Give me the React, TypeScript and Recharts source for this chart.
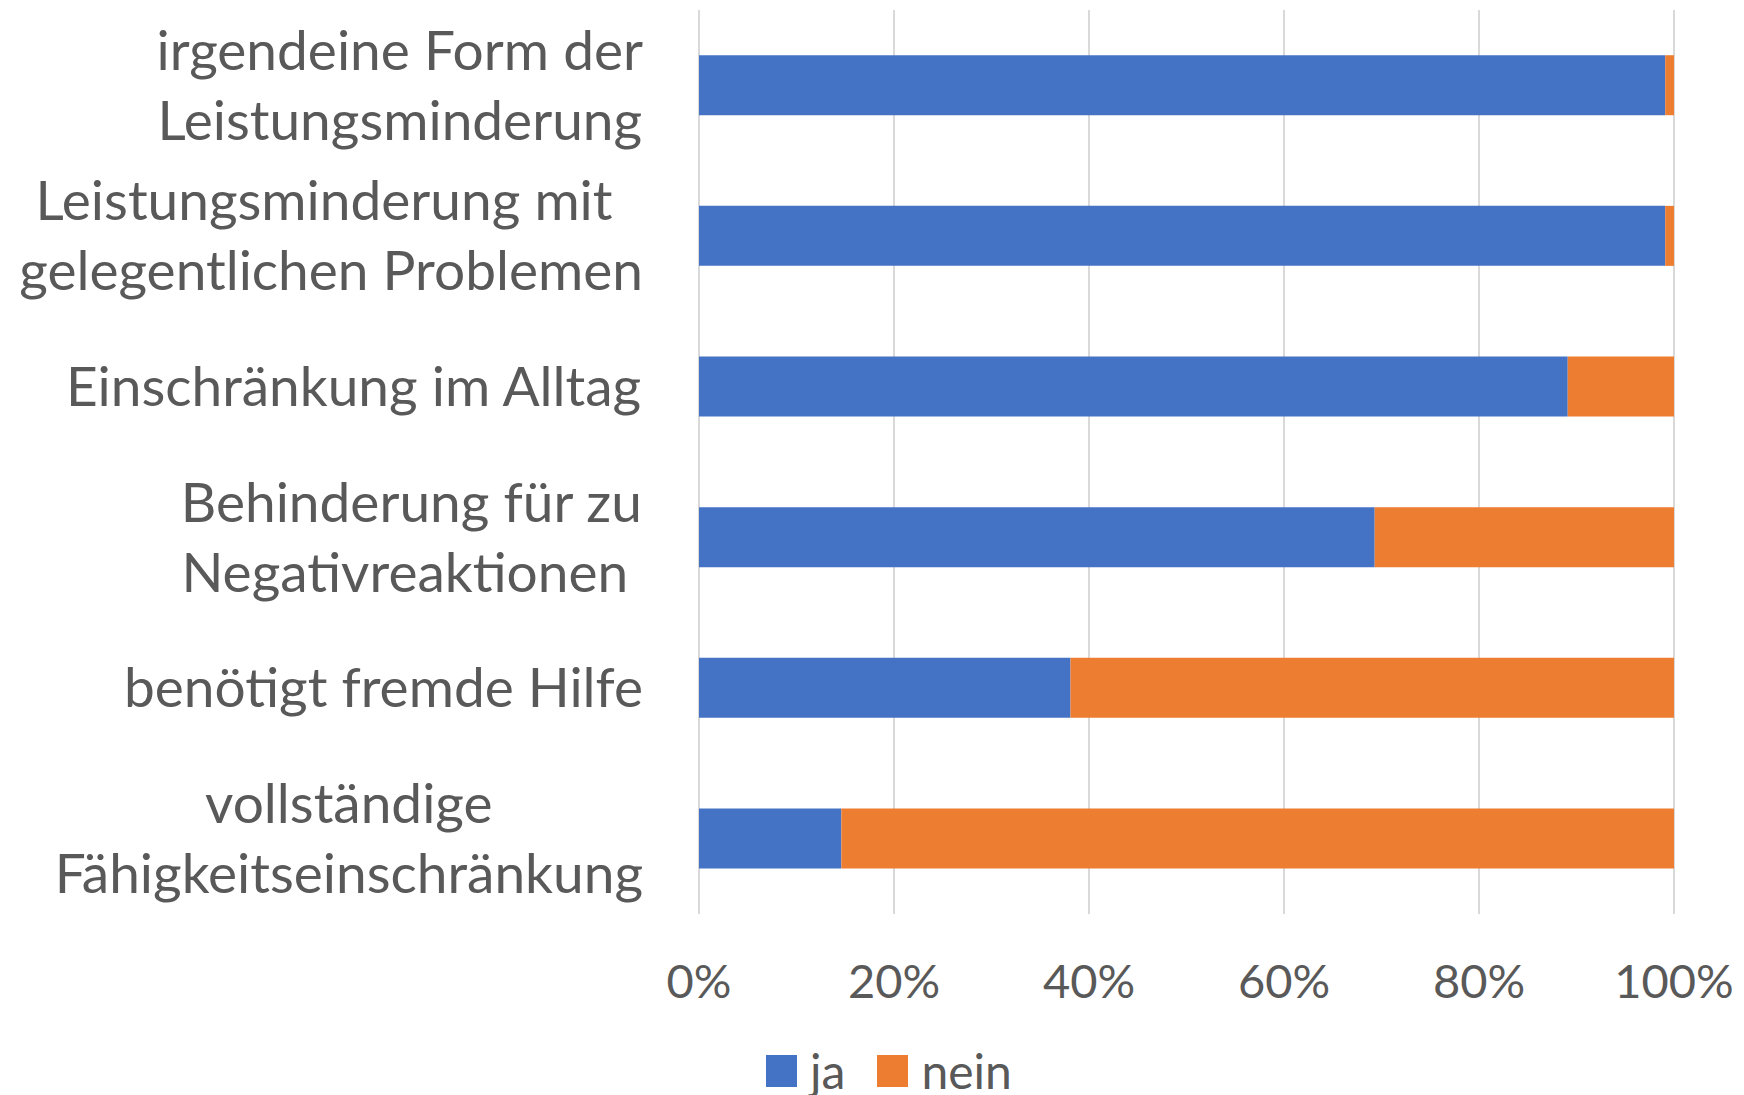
import React from "react";
import { BarChart, Bar, XAxis, YAxis, CartesianGrid, Legend } from "recharts";

// labels as they appear on the axis; "\n" marks a line break
const categories = [
  "irgendeine Form der\nLeistungsminderung",
  "Leistungsminderung mit \ngelegentlichen Problemen",
  "Einschränkung im Alltag",
  "Behinderung für zu\nNegativreaktionen ",
  "benötigt fremde Hilfe",
  "vollständige\nFähigkeitseinschränkung",
];
const ja = [99.1, 99.1, 89.1, 69.3, 38.1, 14.6];
const nein = [0.9, 0.9, 10.9, 30.7, 61.9, 85.4];
const xTicks = [0, 20, 40, 60, 80, 100];

const data = categories.map((name, i) => ({ name, ja: ja[i], nein: nein[i] }));

const TEXT = "#595959";
const FONT = "Lato";
const LABEL_SIZE = 55;
const LINE_GAP = 70;

let ctx: CanvasRenderingContext2D | null = null;
function measure(s: string, size: number) {
  if (!ctx) ctx = document.createElement("canvas").getContext("2d");
  if (!ctx) return s.length * size * 0.5;
  ctx.font = `${size}px ${FONT}`;
  return ctx.measureText(s).width;
}

// Excel centres the lines of a wrapped label inside a right-aligned block
function CategoryTick(props: any) {
  const { x, y, payload } = props;
  const lines = String(payload.value).split("\n");
  const widths = lines.map((l) => measure(l, LABEL_SIZE));
  const block = Math.max(...widths);
  const right = x - 56;
  const top = y - ((lines.length - 1) * LINE_GAP) / 2;
  return (
    <g>
      {lines.map((l, i) => (
        <text
          key={i}
          x={right - block / 2 - widths[i] / 2}
          y={top + i * LINE_GAP}
          dy="0.35em"
          textAnchor="start"
          fill={TEXT}
          fontSize={LABEL_SIZE}
          fontFamily={FONT}
        >
          {l.trimEnd()}
        </text>
      ))}
    </g>
  );
}

function PercentTick(props: any) {
  const { x, y, payload } = props;
  return (
    <text x={x} y={y + 68} dy="0.35em" textAnchor="middle" fill={TEXT} fontSize={47} fontFamily={FONT}>
      {payload.value}%
    </text>
  );
}

function LegendContent(props: any) {
  const items = props.payload || [];
  return (
    <div style={{ display: "flex", alignItems: "center", height: 38, lineHeight: "38px", fontFamily: FONT, fontSize: 48, color: TEXT, whiteSpace: "nowrap" }}>
      {items.map((it: any, i: number) => (
        <div key={i} style={{ display: "flex", alignItems: "center", flexShrink: 0, marginRight: i === 0 ? 32 : 0 }}>
          <span style={{ display: "inline-block", flexShrink: 0, width: 31, height: 32, background: it.color, marginRight: 13 }} />
          <span>{it.value}</span>
        </div>
      ))}
    </div>
  );
}

export default function App() {
  return (
    <div style={{ position: "absolute", left: 0, top: 0, background: "#fff" }}>
      <BarChart
        width={1744}
        height={1095}
        data={data}
        layout="vertical"
        barCategoryGap="30%"
        margin={{ top: 10, right: 70, left: 0, bottom: 5 }}
      >
        <CartesianGrid horizontal={false} stroke="#d9d9d9" strokeWidth={2} />
        <XAxis
          type="number"
          domain={[0, 100]}
          ticks={xTicks}
          interval={0}
          axisLine={false}
          tickLine={false}
          tickSize={0}
          tickMargin={0}
          height={138}
          tick={<PercentTick />}
        />
        <YAxis
          type="category"
          dataKey="name"
          width={699}
          interval={0}
          axisLine={false}
          tickLine={false}
          tickSize={0}
          tickMargin={0}
          tick={<CategoryTick />}
        />
        <Legend verticalAlign="bottom" content={<LegendContent />} wrapperStyle={{ left: 766, bottom: 5, width: "auto" }} />
        <Bar dataKey="ja" name="ja" stackId="a" fill="#4472C4" isAnimationActive={false} />
        <Bar dataKey="nein" name="nein" stackId="a" fill="#ED7D31" isAnimationActive={false} />
      </BarChart>
    </div>
  );
}
